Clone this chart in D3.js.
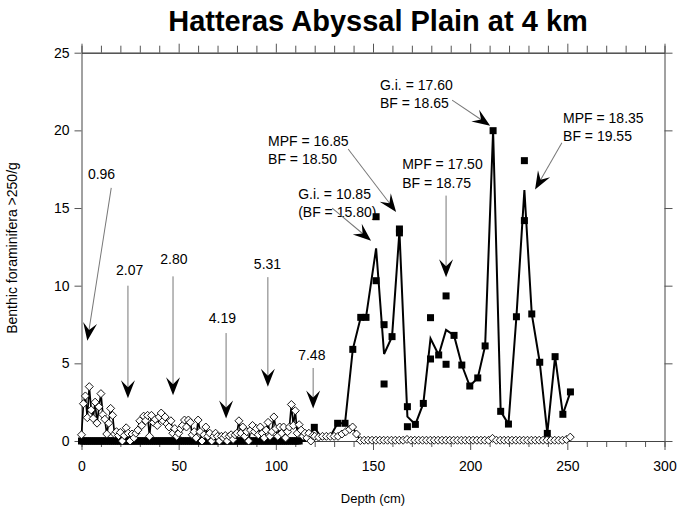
<!DOCTYPE html>
<html><head><meta charset="utf-8">
<script src="https://cdn.jsdelivr.net/npm/d3@7"></script>
<style>body{margin:0;background:#fff} text{font-family:"Liberation Sans",Arial,sans-serif;fill:#000}</style>
</head><body><svg id="c" width="677" height="510"></svg>
<script>
// ---- DATA ----
const title = "Hatteras Abyssal Plain at 4 km";
const xLabel = "Depth (cm)";
const yLabel = "Benthic foraminifera >250/g";
const xTicks = [0,50,100,150,200,250,300];
const yTicks = [0,5,10,15,20,25];

// open diamonds (with line)
const diamondDepth = [
 0,1,2,3,4,5,6,7,8,9,10,11,12,13,14,15,16,17,18,19,20,21,22,23,24,25,26,27,28,29,
 30,31,32,33,34,35,36,37,38,39,40,41,42,43,44,45,46,47,48,49,50,51,52,53,54,55,56,57,58,59,
 60,61,62,63,64,65,66,67,68,69,70,71,72,73,74,75,76,77,78,79,80,81,82,83,84,85,86,87,88,89,
 90,91,92,93,94,95,96,97,98,99,100,101,102,103,104,105,106,107,108,109,110,111,112,113,114,115,116,117,118,119,120,
 122,124,126,128,130,132,134,136,138,139.5,141.5,143.5,
 145.5,147.5,149.5,151.5,153.5,155.5,157.5,159.5,161.5,163.5,
 165.5,167.5,169.5,171.5,173.5,175.5,177.5,179.5,181.5,183.5,
 185.5,187.5,189.5,191.5,193.5,195.5,197.5,199.5,201.5,203.5,
 205.5,207.5,209.5,211.5,213.5,215.5,217.5,219.5,221.5,223.5,
 225.5,227.5,229.5,231.5,233.5,235.5,237.5,239.5,241.5,243.5,
 245.5,247.5,249.5,251.5];
const diamondValue = [
 0.4,2.4,2.9,1.5,3.5,2.0,1.45,2.5,1.15,2.2,
 3.05,1.7,1.4,0.45,1.15,2.1,1.65,0.45,0.6,0.35,
 0.55,0,0.35,0.85,0.5,0,0.45,0.2,0.5,0.7,
 1.3,1.0,1.6,1.3,1.65,0.3,1.65,1.2,1.4,1.0,
 1.55,1.8,1.3,1.55,1.1,0.9,1.3,0.5,0.8,0.3,
 0.5,0.8,1.0,1.35,0.9,1.35,1.2,0.4,0.6,0.2,
 1.35,0.6,0,0.4,0.9,0.3,0.5,0,0.3,0.5,
 0.3,0,0.3,0.2,0.35,0,0.3,0.4,0.1,0.4,
 0.5,1.3,0.5,0.9,0.3,0.6,0,0.7,1.0,0.6,
 0.8,0.4,0.9,0.5,0.2,0.7,1.2,0.3,0.6,1.55,
 0.8,0.3,0.9,0.5,0.9,0.2,0.6,0.9,2.35,1.0,
 1.95,0.5,1.05,0.7,0.3,0.5,0.2,0.5,0,0.35,
 0.3,
 0.25,0.3,0.3,0.3,0.3,0.3,0.45,0.6,0.75,0.9,0.45,0.03,
 0.05,0.05,0.05,0.05,0.05,0.05,0.05,0.05,0.05,0.05,
 0.05,0.1,0.05,0.05,0.05,0.05,0.05,0.05,0.05,0.05,
 0.05,0.05,0.05,0.05,0.05,0.05,0.05,0.05,0.05,0.05,
 0.05,0.05,0.05,0.17,0.05,0.05,0.05,0.05,0.05,0.05,
 0.05,0.05,0.05,0.05,0.05,0.05,0.05,0.05,0.05,0.05,
 0.05,0.05,0.1,0.25];

// filled squares (individual counts)
const squareZeroMaxDepth = 112; // all samples 0..112 cm are zero
const squareDepth = [119.8,131.8,135.6,139.6,143.7,146.4,151.6,151.6,155.7,155.7,159.8,163.6,163.6,
 167.7,167.7,171.8,175.9,179.6,179.6,183.8,187.6,187.6,191.7,195.7,199.8,203.9,207.7,211.8,
 215.7,219.7,223.8,227.9,227.9,231.7,235.8,239.7,243.7,247.7,251.6];
const squareValue = [0.88,1.14,1.14,5.9,7.96,7.96,14.44,10.32,7.49,3.67,6.72,13.65,13.4,
 2.21,0.92,1.07,2.42,7.94,5.28,5.54,9.34,4.94,6.8,4.89,3.54,4.06,6.12,19.98,
 1.91,1.09,8.0,18.05,14.19,8.18,5.07,0.49,5.43,1.72,3.16];

// line through squares (mean)
const lineDepth = [0,112,116,119.8,123.8,127.8,131.8,135.6,139.6,143.7,146.4,151.6,155.7,159.8,163.6,
 167.7,171.8,175.9,179.6,183.8,187.6,191.7,195.7,199.8,203.9,207.7,211.8,215.7,219.7,223.8,
 227.9,231.7,235.8,239.7,243.7,247.7,251.6];
const lineValue = [0,0,0,0.88,0.15,0.25,1.14,1.14,5.9,7.96,7.96,12.4,5.6,6.72,13.5,
 1.57,1.07,2.42,6.6,5.54,7.15,6.8,4.89,3.54,4.06,6.12,19.98,1.91,1.09,8.0,
 16.15,8.18,5.07,0.49,5.43,1.72,3.16];

// annotations: text lines, text anchor (depth,value of left/baseline), arrow from/to (depth,value)
const annText = [["0.96"],["2.07"],["2.80"],["4.19"],["5.31"],["7.48"],
 ["G.i. = 10.85","(BF = 15.80)"],["MPF = 16.85","BF = 18.50"],["G.i. = 17.60","BF = 18.65"],
 ["MPF = 17.50","BF = 18.75"],["MPF = 18.35","BF = 19.55"]];
const annTextPos = [[3.3,16.9],[17.8,10.7],[40.5,11.4],[65.5,7.6],[88.7,11.1],[111.5,5.2],
 [111.5,15.6],[96,19.0],[153.6,22.6],[165,17.5],[247.8,20.5]];
const annFrom = [[15.3,16.3],[23.9,10.0],[47.1,10.6],[74.4,6.95],[95.9,10.55],[119.2,4.7],
 [129.0,15.0],[137.2,18.8],[190.7,21.95],[187.6,15.8],[247.2,19.2]];
const annTo = [[3.0,6.45],[23.9,2.75],[47.1,2.95],[74.4,1.45],[95.9,3.5],[119.2,2.1],
 [149.0,12.9],[161.9,14.75],[210.3,20.3],[187.6,10.55],[233.4,16.2]];

// ---- DRAW ----
const svg = d3.select("#c");
const x = d3.scaleLinear().domain([0,300]).range([81.5,664.5]);
const y = d3.scaleLinear().domain([0,25]).range([441,52.7]);

svg.append("text").attr("x",378).attr("y",31).attr("text-anchor","middle")
  .style("font-size","29px").style("font-weight","bold").text(title);

const minor = d3.range(0,301,10).filter(v=>v%50!==0);
function styleAxis(g){ g.selectAll("path,line").attr("stroke","#555"); g.selectAll("text").style("font-size","14px").attr("fill","#000"); }

svg.append("g").attr("transform","translate(0,441)")
  .call(d3.axisBottom(x).tickValues(minor).tickSize(6).tickFormat("")).call(styleAxis);
svg.append("g").attr("transform","translate(0,441)")
  .call(d3.axisBottom(x).tickValues(xTicks).tickSize(9).tickPadding(11).tickSizeOuter(0)).call(styleAxis);
svg.append("g").attr("transform","translate(0,52.7)")
  .call(d3.axisTop(x).tickValues(minor).tickSize(7).tickFormat("")).call(styleAxis);
svg.append("g").attr("transform","translate(0,52.7)")
  .call(d3.axisTop(x).tickValues(xTicks).tickSize(9).tickFormat("").tickSizeOuter(0)).call(styleAxis);
svg.append("g").attr("transform","translate(81.5,0)")
  .call(d3.axisLeft(y).tickValues(yTicks).tickSize(7).tickPadding(5).tickSizeOuter(0)).call(styleAxis);
svg.append("g").attr("transform","translate(664.5,0)")
  .call(d3.axisRight(y).tickValues(yTicks).tickSize(8).tickFormat("").tickSizeOuter(0)).call(styleAxis);
svg.selectAll(".domain").attr("stroke","#444");

svg.append("text").attr("x",373).attr("y",503).attr("text-anchor","middle").style("font-size","13px").text(xLabel);
svg.append("text").attr("transform","translate(17,248) rotate(-90)").attr("text-anchor","middle").style("font-size","14px").text(yLabel);

// zero squares band
const zeroDepths = diamondDepth.filter(d=>d<=squareZeroMaxDepth);
const sq = 7;
svg.append("g").selectAll("rect.z").data(zeroDepths).join("rect")
  .attr("x",d=>x(d)-sq/2).attr("y",y(0)-sq/2).attr("width",sq).attr("height",sq).attr("fill","#000");

// line through squares
const lineGen = d3.line().x(d=>x(d[0])).y(d=>y(d[1]));
svg.append("path").datum(lineDepth.map((d,i)=>[d,lineValue[i]]))
  .attr("d",lineGen).attr("fill","none").attr("stroke","#000").attr("stroke-width",2).attr("stroke-linejoin","miter");
svg.append("g").selectAll("rect").data(squareDepth.map((d,i)=>[d,squareValue[i]])).join("rect")
  .attr("x",d=>x(d[0])-sq/2).attr("y",d=>y(d[1])-sq/2).attr("width",sq).attr("height",sq).attr("fill","#000");

// diamonds
const dia = diamondDepth.map((d,i)=>[d,diamondValue[i]]);
svg.append("path").datum(dia).attr("d",lineGen).attr("fill","none").attr("stroke","#000").attr("stroke-width",1.7);
const r = 4;
svg.append("g").selectAll("path").data(dia).join("path")
  .attr("d",d=>{const cx=x(d[0]), cy=y(d[1]); return `M${cx},${cy-r}L${cx+r},${cy}L${cx},${cy+r}L${cx-r},${cy}Z`;})
  .attr("fill","#fff").attr("stroke","#000").attr("stroke-width",0.9);

// annotations
const ag = svg.append("g");
annText.forEach((lines,i)=>{
  const tx = x(annTextPos[i][0]), ty = y(annTextPos[i][1]);
  lines.forEach((s,j)=>ag.append("text").attr("x",tx).attr("y",ty+j*18.5).style("font-size","14px").text(s));
  const x1=x(annFrom[i][0]), y1=y(annFrom[i][1]), x2=x(annTo[i][0]), y2=y(annTo[i][1]);
  const ang = Math.atan2(y2-y1,x2-x1)*180/Math.PI;
  const len = Math.hypot(x2-x1,y2-y1);
  const g = ag.append("g").attr("transform",`translate(${x1},${y1}) rotate(${ang})`);
  g.append("line").attr("x1",0).attr("y1",0).attr("x2",len-8).attr("y2",0).attr("stroke","#777").attr("stroke-width",1);
  g.append("path").attr("d",`M${len},0L${len-18},-7L${len-11},0L${len-18},7Z`).attr("fill","#000");
});
</script></body></html>
